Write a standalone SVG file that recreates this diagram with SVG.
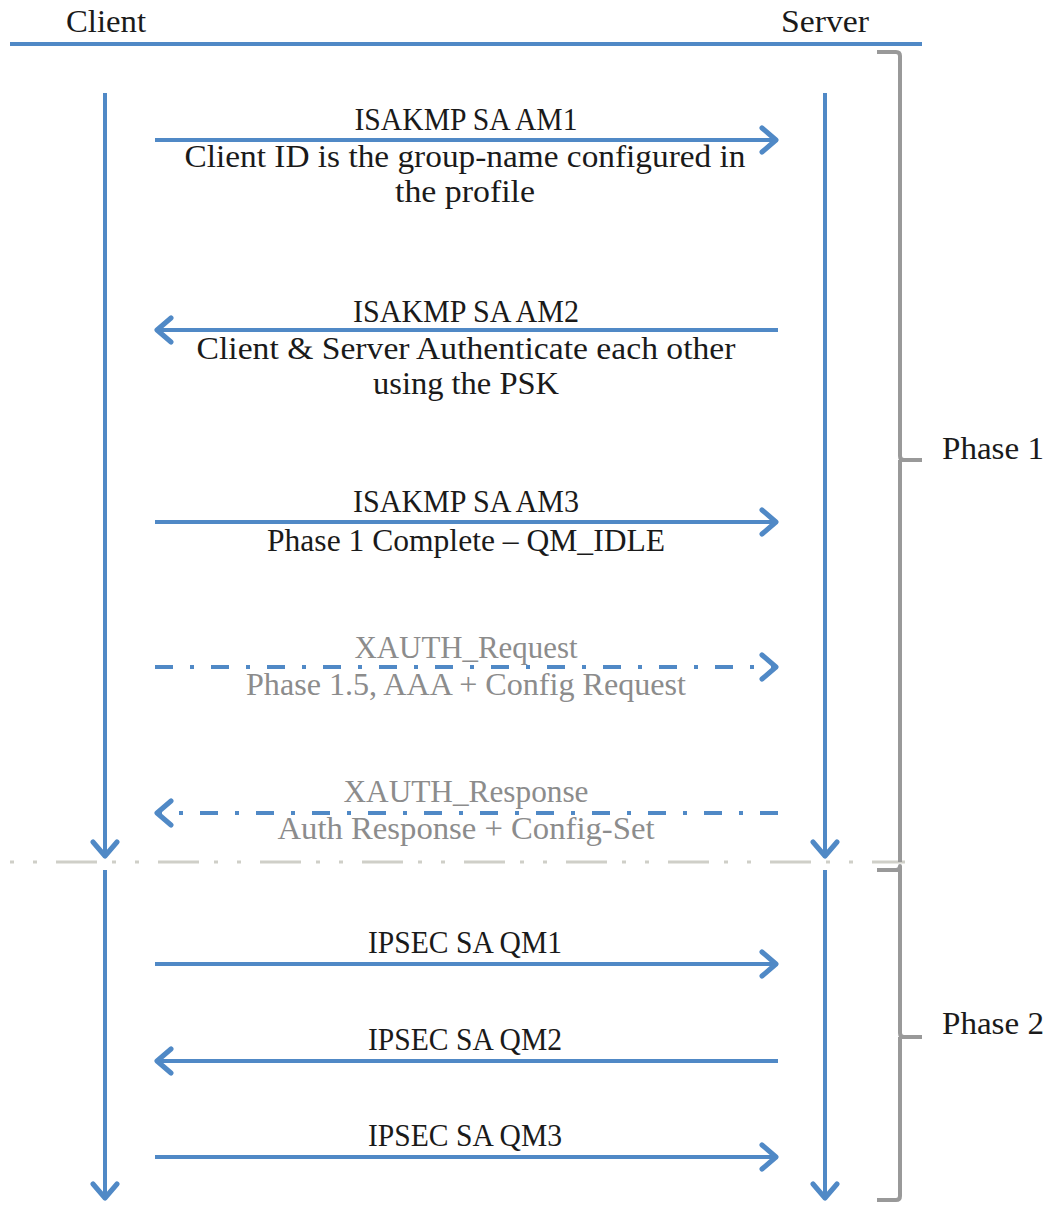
<svg xmlns="http://www.w3.org/2000/svg" width="1048" height="1207" viewBox="0 0 1048 1207">
<style>
  text { font-family: "Liberation Serif", "DejaVu Serif", serif; font-size: 31px; fill: #1a1a1a; }
  .lbl { text-anchor: middle; }
  .gray { fill: #8c8c8c; }
  .msg { stroke: #5089c6; stroke-width: 4; fill: none; }
  .dd { stroke-dasharray: 18 17 4 17; }
  .life { stroke: #5089c6; stroke-width: 4; fill: none; }
  .brk { stroke: #999999; stroke-width: 4; fill: none; stroke-linejoin: round; }
</style>
<defs>
  <marker id="arr" markerUnits="userSpaceOnUse" markerWidth="30" markerHeight="30" viewBox="-20 -15 30 30" refX="0" refY="0" orient="auto">
    <path d="M-14,-12 L0,0 L-14,12" fill="none" stroke="#5089c6" stroke-width="5" stroke-linecap="round" stroke-linejoin="round"/>
  </marker>
</defs>
<rect width="1048" height="1207" fill="#ffffff"/>

<g id="header">
  <line x1="10" y1="44" x2="922" y2="44" stroke="#5089c6" stroke-width="4"/>
  <text x="66" y="32" textLength="80" lengthAdjust="spacingAndGlyphs">Client</text>
  <text x="781" y="32" textLength="88" lengthAdjust="spacingAndGlyphs">Server</text>
</g>

<g id="lifelines">
  <line class="life" x1="105" y1="93" x2="105" y2="856" marker-end="url(#arr)"/>
  <line class="life" x1="105" y1="870" x2="105" y2="1198" marker-end="url(#arr)"/>
  <line class="life" x1="825" y1="93" x2="825" y2="856" marker-end="url(#arr)"/>
  <line class="life" x1="825" y1="870" x2="825" y2="1198" marker-end="url(#arr)"/>
</g>

<g id="separator">
  <line x1="10" y1="862" x2="905" y2="862" stroke="#cfcfc8" stroke-width="3" stroke-dasharray="4 19 4 19 41 15"/>
</g>

<g id="connectors">
  <line class="msg" x1="155" y1="140" x2="776" y2="140" marker-end="url(#arr)"/>
  <line class="msg" x1="778" y1="330" x2="157" y2="330" marker-end="url(#arr)"/>
  <line class="msg" x1="155" y1="522" x2="776" y2="522" marker-end="url(#arr)"/>
  <line class="msg dd" x1="155" y1="667" x2="776" y2="667" marker-end="url(#arr)"/>
  <line class="msg dd" x1="778" y1="813" x2="157" y2="813" marker-end="url(#arr)"/>
  <line class="msg" x1="155" y1="964" x2="776" y2="964" marker-end="url(#arr)"/>
  <line class="msg" x1="778" y1="1061" x2="157" y2="1061" marker-end="url(#arr)"/>
  <line class="msg" x1="155" y1="1157" x2="776" y2="1157" marker-end="url(#arr)"/>
</g>

<g id="msg-am1">
  <text class="lbl" x="466" y="130" textLength="223" lengthAdjust="spacingAndGlyphs">ISAKMP SA AM1</text>
  <text class="lbl" x="465" y="167" textLength="561" lengthAdjust="spacingAndGlyphs">Client ID is the group-name configured in</text>
  <text class="lbl" x="465" y="202" textLength="140" lengthAdjust="spacingAndGlyphs">the profile</text>
</g>
<g id="msg-am2">
  <text class="lbl" x="466" y="322" textLength="226" lengthAdjust="spacingAndGlyphs">ISAKMP SA AM2</text>
  <text class="lbl" x="466" y="359" textLength="539" lengthAdjust="spacingAndGlyphs">Client &amp; Server Authenticate each other</text>
  <text class="lbl" x="466" y="394" textLength="186" lengthAdjust="spacingAndGlyphs">using the PSK</text>
</g>
<g id="msg-am3">
  <text class="lbl" x="466" y="512" textLength="226" lengthAdjust="spacingAndGlyphs">ISAKMP SA AM3</text>
  <text class="lbl" x="466" y="551" textLength="398" lengthAdjust="spacingAndGlyphs">Phase 1 Complete – QM_IDLE</text>
</g>
<g id="msg-xauth-req">
  <text class="lbl gray" x="466" y="658" textLength="223" lengthAdjust="spacingAndGlyphs">XAUTH_Request</text>
  <text class="lbl gray" x="466" y="695" textLength="440" lengthAdjust="spacingAndGlyphs">Phase 1.5, AAA + Config Request</text>
</g>
<g id="msg-xauth-resp">
  <text class="lbl gray" x="466" y="802" textLength="245" lengthAdjust="spacingAndGlyphs">XAUTH_Response</text>
  <text class="lbl gray" x="466" y="839" textLength="377" lengthAdjust="spacingAndGlyphs">Auth Response + Config-Set</text>
</g>
<g id="msg-qm1">
  <text class="lbl" x="465" y="953" textLength="194" lengthAdjust="spacingAndGlyphs">IPSEC SA QM1</text>
</g>
<g id="msg-qm2">
  <text class="lbl" x="465" y="1050" textLength="194" lengthAdjust="spacingAndGlyphs">IPSEC SA QM2</text>
</g>
<g id="msg-qm3">
  <text class="lbl" x="465" y="1146" textLength="194" lengthAdjust="spacingAndGlyphs">IPSEC SA QM3</text>
</g>

<g id="phase1">
  <path class="brk" d="M877,52 L896,52 Q900,52 900,56 L900,456 Q900,460 904,460 L922,460 M900,460 L900,862"/>
  <text x="942" y="459" textLength="102" lengthAdjust="spacingAndGlyphs">Phase 1</text>
</g>
<g id="phase2">
  <path class="brk" d="M877,870 L896,870 Q900,870 900,866 L900,1033 Q900,1037 904,1037 L922,1037 M900,1037 L900,1196 Q900,1200 896,1200 L877,1200"/>
  <text x="942" y="1034" textLength="102" lengthAdjust="spacingAndGlyphs">Phase 2</text>
</g>
</svg>
